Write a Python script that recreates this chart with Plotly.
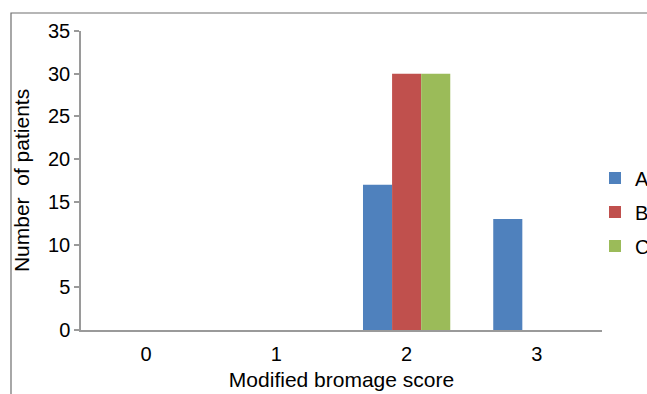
import plotly.graph_objects as go

categories = ["0", "1", "2", "3"]
series_names = ["A", "B", "C"]
values_A = [0, 0, 17, 13]
values_B = [0, 0, 30, 0]
values_C = [0, 0, 30, 0]
colors = ["#4F81BD", "#C0504D", "#9BBB59"]
y_ticks = [0, 5, 10, 15, 20, 25, 30, 35]

W, H = 647, 394
L, R, T, B = 81, 45, 31, 64
pw, ph = W - L - R, H - T - B

fig = go.Figure()
for i, (name, vals) in enumerate(zip(series_names, [values_A, values_B, values_C])):
    fig.add_trace(go.Bar(x=categories, y=vals, name=name, marker_color=colors[i],
                         marker_line_width=0, legendgroup=name))

fam = "Liberation Sans, Arial, sans-serif"
tick_font = dict(family=fam, size=20, color="#000000")
title_font = dict(family=fam, size=21, color="#000000")

fig.update_layout(
    width=W, height=H,
    margin=dict(l=L, r=R, t=T, b=B, autoexpand=False),
    paper_bgcolor="white", plot_bgcolor="white",
    barmode="group", bargap=0.33, bargroupgap=0,
    font=tick_font,
    showlegend=True,
    legend=dict(x=(595 - L) / pw, xanchor="left", y=(330 - 212) / ph, yanchor="middle",
                font=dict(family=fam, size=20, color="#000000"), tracegroupgap=5,
                bgcolor="rgba(0,0,0,0)", borderwidth=0),
    xaxis=dict(type="category", showgrid=False, showline=True, linecolor="#9a9a9a", linewidth=2,
               ticks="", tickfont=tick_font, ticklabelstandoff=5,
               title=dict(text="Modified bromage score", font=title_font, standoff=8)),
    yaxis=dict(range=[0, 35], tickvals=y_ticks, showgrid=False, showline=True,
               linecolor="#9a9a9a", linewidth=1.5, ticks="outside", ticklen=5,
               tickcolor="#9a9a9a", tickwidth=1.5, tickfont=tick_font, zeroline=False,
               title=dict(text="Number  of patients", font=title_font, standoff=13)),
    shapes=[dict(type="rect", xref="paper", yref="paper",
                 x0=(11 - L) / pw, x1=(W + 20 - L) / pw,
                 y0=-(B + 20) / ph, y1=1 + (T - 13) / ph,
                 line=dict(color="#6e6e6e", width=1.2), fillcolor="rgba(0,0,0,0)", layer="below")],
)

fig.write_html("out.html")
